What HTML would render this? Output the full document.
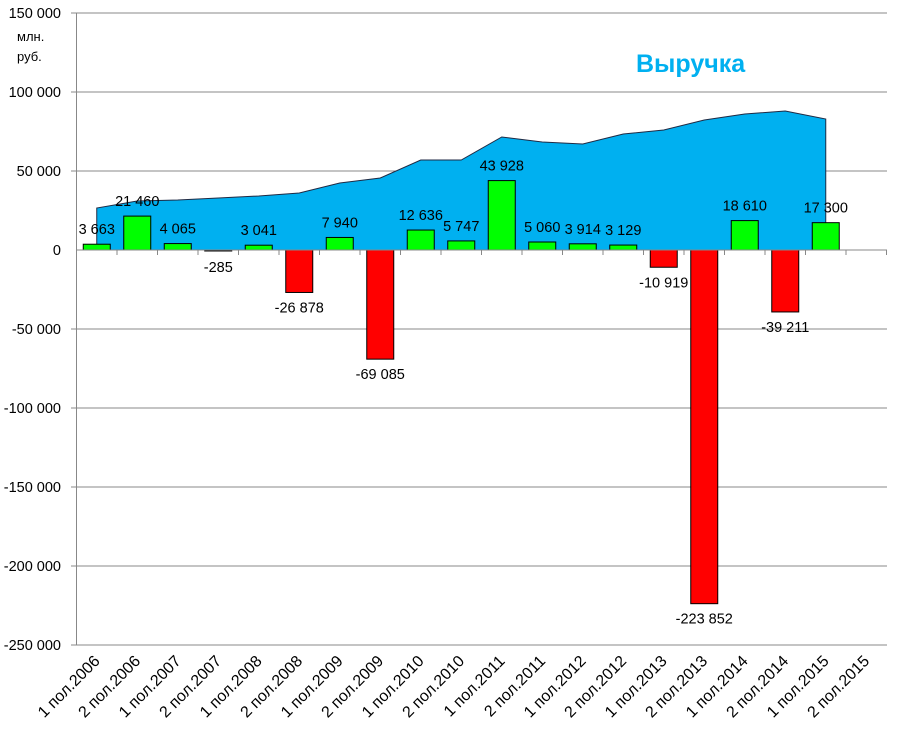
<!DOCTYPE html>
<html><head><meta charset="utf-8"><style>
body{margin:0;background:#fff}
svg{display:block;font-family:"Liberation Sans","DejaVu Sans",sans-serif}
</style></head><body>
<svg id="s" width="897" height="736" xmlns="http://www.w3.org/2000/svg"></svg>
<script>
const s=document.getElementById('s');
let h='';
const Y=v=>250-v*79/50000;
const cx=i=>76.5+40.5*(i+0.5);
for(let v=150000;v>=-250000;v-=50000){
  const y=Y(v);
  if(v!==0) h+=`<line x1="71" x2="887" y1="${y}" y2="${y}" stroke="#888" stroke-width="1"/>`;
  const t=v===0?'0':(v<0?'-':'')+Math.abs(v).toLocaleString('ru-RU').replace(/\s/g,' ');
  h+=`<text x="61" y="${y+5}" text-anchor="end" font-size="14.5" fill="#000">${t}</text>`;
}
h+=`<line x1="76.5" x2="76.5" y1="13" y2="645" stroke="#888"/>`;
const ay=[208,201,200,198,196,193,183,178,160,160,137,142,144,134,130,120,114,111,119];
let p=`M${cx(0)},250 `;
ay.forEach((y,i)=>p+=`L${cx(i)},${y} `);
p+=`L${cx(18)},250 Z`;
h+=`<path d="${p}" fill="#00b0f0" stroke="#1f2a44" stroke-width="1"/>`;
const vals=[3663,21460,4065,-285,3041,-26878,7940,-69085,12636,5747,43928,5060,3914,3129,-10919,-223852,18610,-39211,17300];
const lab=["3 663","21 460","4 065","-285","3 041","-26 878","7 940","-69 085","12 636","5 747","43 928","5 060","3 914","3 129","-10 919","-223 852","18 610","-39 211","17 300"];
vals.forEach((v,i)=>{
  const x=cx(i)-13.5,y1=Y(Math.max(v,0)),y2=Y(Math.min(v,0));
  const col=v>=0?'#00ff00':'#ff0000';
  h+=`<rect x="${x}" y="${y1}" width="27" height="${Math.max(y2-y1,1)}" fill="${col}" stroke="#000" stroke-width="1"/>`;
});
h+=`<line x1="76.5" x2="887" y1="250" y2="250" stroke="#888"/>`;
for(let i=0;i<=20;i++){const x=76.5+40.5*i;h+=`<line x1="${x}" x2="${x}" y1="250" y2="255" stroke="#888"/>`;}
vals.forEach((v,i)=>{
  const y=v>=0?Y(v)-10:Y(v)+20;
  const yy=v===-285?Y(0)+22:y;
  h+=`<text x="${cx(i)}" y="${yy}" text-anchor="middle" font-size="14.5" fill="#000">${lab[i]}</text>`;
});
for(let i=0;i<20;i++){
  const t=(i%2?'2':'1')+' пол.'+(2006+Math.floor(i/2));
  const x=cx(i)+4,y=662;
  h+=`<text x="${x}" y="${y}" text-anchor="end" font-size="16" transform="rotate(-45 ${x} ${y})" fill="#000">${t}</text>`;
}
h+=`<text x="17" y="41" font-size="13" fill="#000">млн.</text><text x="17" y="61" font-size="13" fill="#000">руб.</text>`;
h+=`<text x="636" y="72" font-size="25" font-weight="bold" fill="#00b0f0">Выручка</text>`;
s.innerHTML=h;
</script>
</body></html>
